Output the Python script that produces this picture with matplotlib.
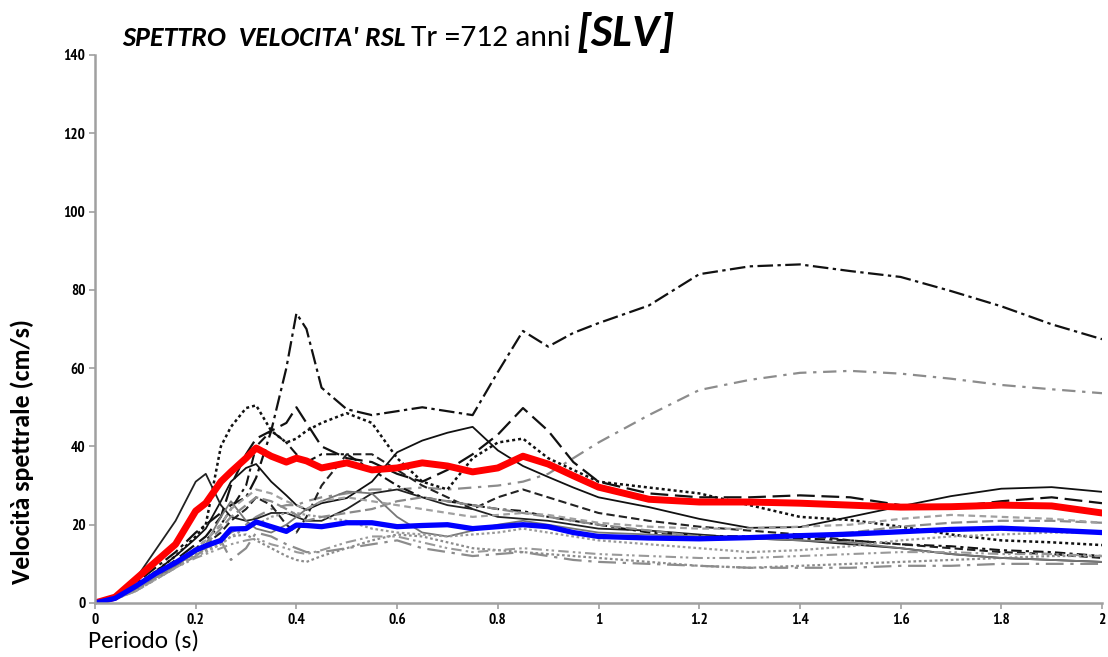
import matplotlib
matplotlib.use("Agg")
import matplotlib.pyplot as plt

# Periodi (s) comuni a tutte le serie
periodo = [0, 0.04, 0.08, 0.12, 0.16, 0.2, 0.22, 0.25, 0.27, 0.3, 0.32, 0.35, 0.38, 0.4,
           0.42, 0.45, 0.5, 0.55, 0.6, 0.65, 0.7, 0.75, 0.8, 0.85, 0.9, 0.95, 1.0,
           1.1, 1.2, 1.3, 1.4, 1.5, 1.6, 1.7, 1.8, 1.9, 2.0]

# spettri dei singoli accelerogrammi (cm/s)
acc_1 = [0, 2, 5, 9, 13, 18, 20, 23, 25, 27, 32, 44, 60, 74, 70, 55, 49.5, 48, 49, 50, 49, 48,
         59, 69.5, 65.5, 69, 71.5, 76, 84, 86, 86.5, 84.8, 83.3, 79.7, 75.8, 71.2, 67.4]
acc_2 = [0, 1.5, 4, 7, 10, 13, 14, 16, 18, 20, 22, 24, 25, 25, 26, 27, 28, 29, 29, 29.5, 29,
         29.5, 30, 31, 33, 37, 41, 48, 54.4, 57, 58.8, 59.3, 58.6, 57.3, 55.7, 54.6, 53.6]
acc_3 = [0, 1.5, 4.5, 8, 12, 16.5, 19, 26, 31, 34.5, 35.5, 31, 27.5, 25, 23.8, 25.5, 26.8, 31,
         38.5, 41.5, 43.5, 45, 39, 35, 32.2, 29.5, 27, 24.5, 21.5, 19.2, 19.4, 22, 24.7, 27.3,
         29.2, 29.6, 28.4]
acc_4 = [0, 2, 6, 13.5, 21, 31, 33, 25, 22, 21, 21.5, 23, 23, 22, 21, 21, 24, 28, 29, 27, 25,
         24, 22, 21.5, 21, 20, 19, 18.5, 17.5, 16.5, 16, 15, 14, 12.5, 11.5, 11, 10.5]
acc_5 = [0, 1.5, 4, 7, 11, 15, 17, 22, 30, 38, 42, 44, 46, 50, 46, 40, 37, 36, 33, 31, 34, 38,
         43, 49.8, 44, 36, 31, 28, 27, 27, 27.5, 27, 25, 24.5, 26, 27, 25.5]
acc_6 = [0, 1.5, 4, 8, 12, 17, 20, 40, 45, 49.8, 50.5, 44, 41, 42, 44, 46, 48.5, 46, 37, 31,
         29, 37, 41, 42, 37, 34, 31, 29.5, 28, 25, 22, 21.2, 19.5, 17.5, 16, 15.5, 14.8]
acc_7 = [0, 1.2, 3.5, 7, 10, 14, 16, 20, 24, 30, 40, 44, 41, 38, 36, 38, 38, 34, 30, 27, 26,
         25, 24, 23.5, 22, 21, 20, 18, 17.2, 17, 16.5, 16, 15, 14.5, 13.5, 13, 12]
acc_8 = [0, 1.2, 3.5, 6.5, 9.5, 13, 15, 18, 21, 24, 27, 25, 20, 18, 22, 30, 38, 38, 34, 30,
         27, 24, 27, 29, 27, 25, 23, 21, 19.5, 18.5, 17.5, 16, 15, 14, 13, 12.5, 11.5]
acc_9 = [0, 1, 3.5, 6.5, 9.5, 12.5, 13.5, 15, 17, 17.5, 16, 14, 12, 11, 10.5, 12, 14, 16, 17.5,
         17, 15.5, 14, 13.5, 13, 12.5, 12, 11.5, 10.5, 9.5, 9, 9.5, 10, 10.5, 11, 11.5, 12, 12]
acc_10 = [0, 1, 3, 6, 9, 12, 14, 16, 11, 14, 18, 17, 15, 14, 13, 13, 14, 15, 16, 14, 13, 12,
          12.5, 13, 12, 11, 10.5, 10, 9.5, 9, 9, 9, 9.5, 9.5, 10, 10, 10]
acc_11 = [0, 1.2, 3.5, 6.5, 9.5, 13, 15, 22, 26, 21, 19, 18, 20, 22, 24, 26, 28.5, 28, 22, 18,
          17, 18.5, 20, 21, 20, 19, 18, 17.5, 17, 16.5, 16, 15.5, 14, 12.5, 11.5, 11, 10.5]
acc_12 = [0, 1, 3, 6, 9, 12, 13, 15, 17, 19, 20, 22, 23, 23, 22.5, 22, 21, 19, 18, 17.5, 17,
          17.5, 18, 19, 18, 17, 16, 15, 14, 13, 13.5, 14.5, 16, 17, 17.5, 18, 18]
acc_13 = [0, 1.2, 3.5, 6.5, 10, 13, 15, 19, 22, 25, 27, 26, 24, 22.5, 21, 22, 23, 24, 26, 27,
          26, 25, 24, 23, 22, 21, 20, 18.5, 17, 16.5, 17, 18, 19.5, 20.5, 21, 21, 20.5]
acc_14 = [0, 1, 3, 6, 9, 11.5, 12.5, 14, 15, 16, 16.5, 15, 14, 13, 12.5, 13.5, 15.5, 17, 17,
          15.5, 14, 13, 13.5, 14, 13.5, 13, 12.5, 12, 11.5, 11.5, 12, 12.5, 13, 13, 12.5, 12.5, 12]
acc_15 = [0, 1.2, 3.8, 7, 10.5, 14, 16, 20, 24, 27, 29, 28, 26, 25, 24, 26, 27, 26, 25, 24, 23,
          22, 22.5, 23, 22.5, 21.5, 20.5, 19.5, 19, 19, 19.5, 20, 21.5, 22.5, 22, 21.5, 20.5]

# spettro medio (rosso) e spettro di normativa (blu)
medio = [0, 1.5, 6, 10.5, 15, 23.5, 25.5, 31, 33.5, 37, 39.6, 37.5, 36, 37, 36.3, 34.5, 35.8,
         34, 34.5, 35.8, 35, 33.5, 34.5, 37.5, 35.5, 32.5, 29.6, 26.5, 25.8, 25.8, 25.5, 25,
         24.5, 24.6, 25, 24.8, 23]
norma = [0, 1.2, 4.2, 7.5, 10.3, 13.5, 14.6, 16, 18.9, 19, 20.7, 19.5, 18.3, 19.9, 19.8, 19.5,
         20.5, 20.5, 19.5, 19.8, 20, 19, 19.5, 20, 19.5, 18, 17, 16.6, 16.4, 16.7, 17.2, 17.6,
         18.2, 18.8, 19.1, 18.6, 18]

# stili delle linee (colore, tratteggio, spessore)
stili = [
    (acc_1, "#111111", (7, 2, 1.5, 2), 1.6),
    (acc_2, "#8c8c8c", (6, 3, 1.5, 3), 1.6),
    (acc_3, "#111111", None, 1.3),
    (acc_4, "#222222", None, 1.3),
    (acc_5, "#111111", (8, 3), 1.6),
    (acc_6, "#111111", (1.2, 1.2), 1.8),
    (acc_7, "#111111", (5, 2, 1.5, 2), 1.5),
    (acc_8, "#222222", (4, 2), 1.5),
    (acc_9, "#8c8c8c", (1.2, 1.2), 1.6),
    (acc_10, "#8c8c8c", (8, 3, 1.5, 3), 1.6),
    (acc_11, "#777777", None, 1.3),
    (acc_12, "#9a9a9a", (1.2, 1.2), 1.6),
    (acc_13, "#8a8a8a", (5, 2), 1.6),
    (acc_14, "#999999", (5, 2, 1.2, 1.5, 1.2, 2), 1.5),
    (acc_15, "#a0a0a0", (3, 2), 1.6),
]

FONT = ["Carlito", "DejaVu Sans"]

fig = plt.figure(figsize=(11.08, 6.57), dpi=100)
ax = fig.add_axes([95 / 1108, 54 / 657, 1007 / 1108, 548 / 657])

for valori, colore, tratto, lw in stili:
    linea, = ax.plot(periodo, valori, color=colore, lw=lw)
    if tratto is not None:
        linea.set_dashes(tratto)

ax.plot(periodo, medio, color="#ff0000", lw=5, solid_capstyle="round")
ax.plot(periodo, norma, color="#0000ff", lw=3.8, solid_capstyle="round")

ax.set_xlim(0, 2)
ax.set_ylim(0, 140)
ax.set_xticks([0, 0.2, 0.4, 0.6, 0.8, 1, 1.2, 1.4, 1.6, 1.8, 2])
ax.set_xticklabels(["0", "0.2", "0.4", "0.6", "0.8", "1", "1.2", "1.4", "1.6", "1.8", "2"])
ax.set_yticks(range(0, 141, 20))

for s in ["top", "right"]:
    ax.spines[s].set_visible(False)
for s in ["left", "bottom"]:
    ax.spines[s].set_color("#a0a0a0")
    ax.spines[s].set_linewidth(1.8)
ax.tick_params(direction="out", length=4, width=1.2, color="#a0a0a0", pad=3)
for lab in ax.get_xticklabels() + ax.get_yticklabels():
    lab.set_fontfamily(["PT Sans Narrow", "DejaVu Sans"])
    lab.set_fontweight("bold")
    lab.set_fontsize(11)

renderer = fig.canvas.get_renderer()


def adatta(testo, larghezza):
    # porta il testo alla larghezza voluta (in pixel) cambiando la dimensione del font
    bb = testo.get_window_extent(renderer)
    lato = bb.height if testo.get_rotation() == 90 else bb.width
    testo.set_fontsize(testo.get_fontsize() * larghezza / lato)


ylab = fig.text(22 / 1108, (657 - 451) / 657, "Velocità spettrale (cm/s)", rotation=90,
                ha="center", va="center", fontsize=14, fontweight="bold", family=FONT)
adatta(ylab, 267)
xlab = fig.text(88 / 1108, (657 - 641) / 657, "Periodo (s)", ha="left", va="center",
                fontsize=15, family=FONT)
adatta(xlab, 112)

# titolo in tre pezzi
t1 = fig.text(122 / 1108, (657 - 46) / 657, "SPETTRO  VELOCITA' RSL", ha="left", va="baseline",
              fontsize=20, fontweight="bold", fontstyle="italic", family=FONT)
adatta(t1, 283)
t2 = fig.text(0, 0, "Tr =712 anni", ha="left", va="baseline", fontsize=15, family=FONT)
adatta(t2, 160)
t3 = fig.text(0, 0, "[SLV]", ha="left", va="baseline", fontsize=28, fontweight="bold",
              fontstyle="italic", family=FONT)
adatta(t3, 98)

x_px = t1.get_window_extent(renderer).x1 + 5
t2.set_position((x_px / 1108, (657 - 46) / 657))
x_px = t2.get_window_extent(renderer).x1 + 6
t3.set_position((x_px / 1108, (657 - 46) / 657))

fig.savefig("out.png", dpi=100)
